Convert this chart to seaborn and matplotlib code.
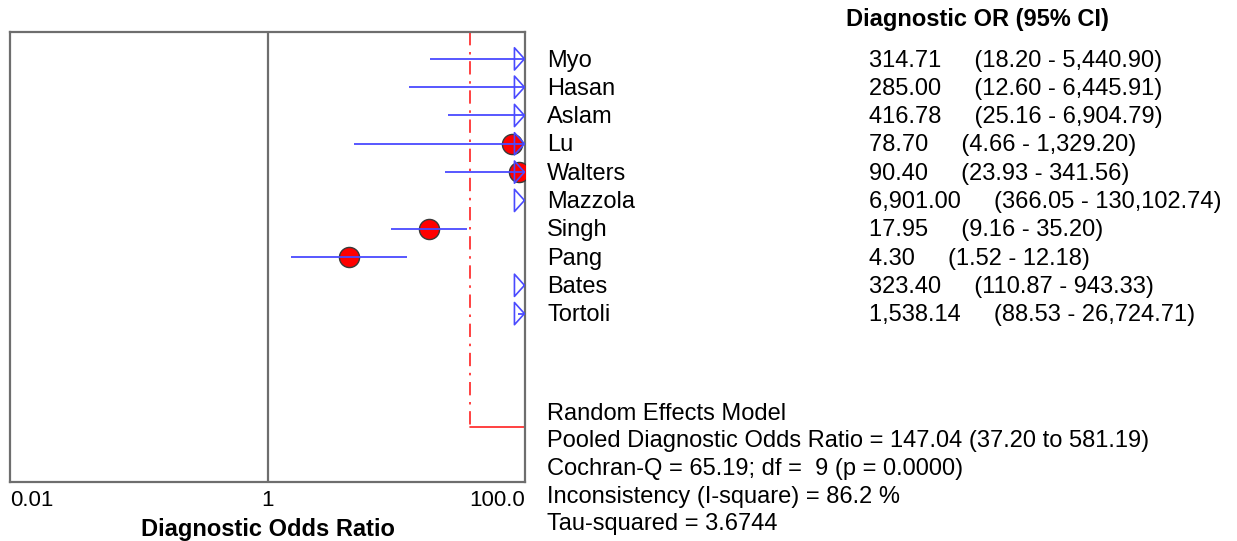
import numpy as np
import pandas as pd
import matplotlib
matplotlib.use("Agg")
import matplotlib.pyplot as plt
import matplotlib.transforms as mtransforms
import seaborn as sns

# Study-level diagnostic odds ratios with 95% confidence limits
studies = ["Myo", "Hasan", "Aslam", "Lu", "Walters", "Mazzola", "Singh", "Pang", "Bates", "Tortoli"]
dor = [314.71, 285.00, 416.78, 78.70, 90.40, 6901.00, 17.95, 4.30, 323.40, 1538.14]
ci_low = [18.20, 12.60, 25.16, 4.66, 23.93, 366.05, 9.16, 1.52, 110.87, 88.53]
ci_high = [5440.90, 6445.91, 6904.79, 1329.20, 341.56, 130102.74, 35.20, 12.18, 943.33, 26724.71]

# Pooled random-effects estimate
pooled = 147.04
pooled_low = 37.20
pooled_high = 581.19

summary_lines = [
    "Random Effects Model",
    "Pooled Diagnostic Odds Ratio = 147.04 (37.20 to 581.19)",
    "Cochran-Q = 65.19; df =  9 (p = 0.0000)",
    "Inconsistency (I-square) = 86.2 %",
    "Tau-squared = 3.6744",
]

tick_values = [0.01, 1, 100]
tick_labels = ["0.01", "1", "100.0"]

sns.set_theme(style="white")
plt.rcParams["font.family"] = ["Liberation Sans", "DejaVu Sans"]
plt.rcParams["text.color"] = "black"

x_min, x_max = 0.01, 100.0
FS = 17

df = pd.DataFrame({"study": studies, "dor": dor, "lo": ci_low, "hi": ci_high})
df["row"] = np.arange(len(df))

fig = plt.figure(figsize=(12.37, 5.41), dpi=100)
ax = fig.add_axes([10 / 1237, 59 / 541, 515 / 1237, 450 / 541])
ax.set_xscale("log")
ax.set_xlim(x_min, x_max)
pooled_row = 13.0
ax.set_ylim(14.95, -0.95)

# Reference line at OR = 1
ax.axvline(1, color="#6e6e6e", lw=1.6, zorder=1)

# Point estimates inside the plotted range
inside = df[df["dor"] <= x_max]
sns.scatterplot(data=inside, x="dor", y="row", ax=ax, s=210, color="#ff0000",
                edgecolor="#3a3a3a", linewidth=1.0, zorder=3, legend=False)

# Confidence intervals (clipped by the axes at the range limits)
ax.hlines(df["row"], df["lo"], df["hi"], color="#4a4aff", lw=1.3, zorder=4)

# Open arrowheads for intervals extending past the upper limit
arrow = [(-0.05, 0), (-0.95, -1), (-0.95, 1), (-0.05, 0)]
beyond = df[df["hi"] > x_max].copy()
beyond["edge"] = x_max
sns.scatterplot(data=beyond, x="edge", y="row", ax=ax, marker=arrow, s=16 ** 2,
                facecolor="none", edgecolor="#4a4aff", linewidth=1.2, zorder=5,
                legend=False, clip_on=False)

# Pooled estimate marker line
ax.plot([pooled_low, pooled_low], [-0.95, pooled_row], color="#ff2020", lw=1.2,
        linestyle=(0, (8, 4, 1.5, 4)), zorder=2)
ax.plot([pooled_low, x_max], [pooled_row, pooled_row], color="#ff2020", lw=1.2, zorder=2)

ax.set_yticks([])
ax.set_xticks(tick_values)
ax.set_xticklabels(tick_labels, fontsize=16, color="black")
ax.minorticks_off()
ax.tick_params(axis="x", length=0, pad=6)
for lab, ha in zip(ax.get_xticklabels(), ["left", "center", "right"]):
    lab.set_ha(ha)
ax.set_ylabel("")
ax.set_xlabel("Diagnostic Odds Ratio", fontsize=FS, fontweight="bold", labelpad=5, color="black")

for sp in ax.spines.values():
    sp.set_color("#6e6e6e")
    sp.set_linewidth(1.6)

# Right-hand text columns
tr = mtransforms.blended_transform_factory(fig.transFigure, ax.transData)
name_x = 547 / 1237
val_x = 869 / 1237
ax.text(977 / 1237, -1.38, "Diagnostic OR (95% CI)", transform=tr, ha="center", va="center",
        fontsize=FS, fontweight="bold", clip_on=False)
for _, r in df.iterrows():
    ax.text(name_x, r["row"] + 0.06, r["study"], transform=tr, ha="left", va="center",
            fontsize=FS, clip_on=False)
    txt = f"{r['dor']:,.2f}     ({r['lo']:,.2f} - {r['hi']:,.2f})"
    ax.text(val_x, r["row"] + 0.06, txt, transform=tr, ha="left", va="center",
            fontsize=FS, clip_on=False)

for k, line in enumerate(summary_lines):
    ax.text(name_x, 12.53 + 0.98 * k, line, transform=tr, ha="left", va="center",
            fontsize=FS, clip_on=False)

fig.savefig("out.png", dpi=100, facecolor="white")
